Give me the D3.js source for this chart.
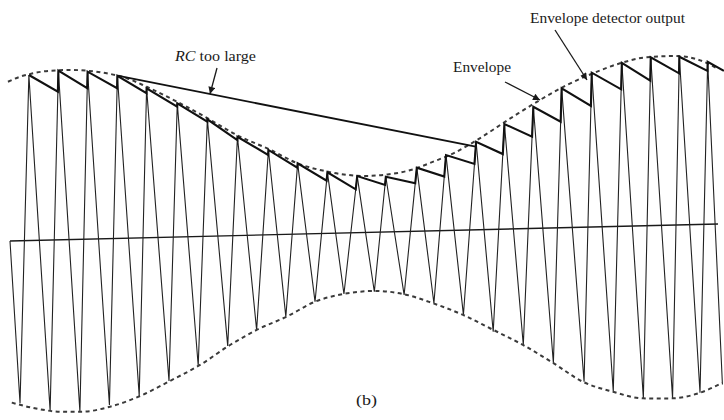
<!DOCTYPE html>
<html>
<head>
<meta charset="utf-8">
<title>Envelope detector output, RC too large</title>
<style>
  body { margin: 0; background: #fff; }
  svg { display: block; }
  text { font-family: "Liberation Serif", "DejaVu Serif", serif; fill: #1a1a1a; }
</style>
</head>
<body>
<svg width="724" height="420"></svg>
<script src="https://d3js.org/d3.v7.min.js"></script>
<script>
// carrier peaks / troughs, time in carrier periods, amplitude relative to axis
var peakT = [0.64,1.64,2.63,3.64,4.63,5.67,6.69,7.71,8.76,9.75,10.76,11.77,12.74,13.79,14.78,15.8,16.76,17.74,18.7,19.72,20.74,21.72,22.69,23.65];
var peakA = [0.974,0.995,0.985,0.957,0.879,0.786,0.688,0.581,0.499,0.416,0.359,0.333,0.325,0.374,0.444,0.518,0.618,0.716,0.82,0.908,0.962,0.99,0.989,0.956];
var troughT = [0.34,1.36,2.37,3.37,4.38,5.39,6.38,7.38,8.36,9.35,10.34,11.32,12.35,13.36,14.37,15.37,16.38,17.4,18.42,19.46,20.45,21.47,22.46,23.39,24.15];
var troughA = [-0.956,-1.004,-1.014,-0.979,-0.93,-0.846,-0.76,-0.648,-0.558,-0.484,-0.4,-0.359,-0.35,-0.373,-0.426,-0.499,-0.602,-0.684,-0.796,-0.909,-0.972,-1.015,-1.019,-0.99,-0.945];

// level the detector output has decayed to before the next carrier cycle catches it
var valleyA = [0.872,0.888,0.884,0.85,0.767,0.674,0.562,0.47,0.391,0.31,0.255,0.277,0.282,0.318,0.388,0.442,0.54,0.624,0.713,0.806,0.853,0.892,0.902,0.9];
var detectorEndT = 24.2;

// "RC too large" discharge: from peak 4 to the rising edge of peak 16
var rcFrom = 3, rcTo = 15, rcLevel = 0.49;

// dashed envelope
var upperEnvT = [-0.07,0.34,0.78,1.36,1.92,2.6,3.28,3.96,4.63,5.67,6.69,7.7,8.76,9.83,10.6,11.4,12.1,12.8,13.67,14.35,15.03,15.7,17.05,17.97,18.88,19.76,20.68,21.59,22.47,23.29,23.97];
var upperEnvA = [0.937,0.965,0.983,0.996,0.998,0.991,0.973,0.941,0.888,0.795,0.695,0.59,0.505,0.41,0.37,0.342,0.332,0.338,0.365,0.407,0.453,0.515,0.66,0.755,0.839,0.904,0.959,0.991,0.995,0.972,0.916];
var lowerEnvT = [0.06,0.78,1.7,2.48,3.39,4.41,5.42,6.44,7.46,8.36,9.38,10.34,11.29,12.3,13.32,14.34,15.36,16.27,17.39,18.41,19.42,20.44,21.46,22.47,23.39,24.14];
var lowerEnvA = [-0.951,-0.985,-1.011,-1.014,-0.989,-0.93,-0.846,-0.756,-0.643,-0.558,-0.484,-0.4,-0.359,-0.345,-0.367,-0.426,-0.499,-0.581,-0.684,-0.794,-0.909,-0.972,-1.015,-1.019,-0.99,-0.936];

var svg = d3.select("svg");

var x = d3.scaleLinear().domain([0, 24]).range([10, 718]);
var y = d3.scaleLinear().domain([-1, 1]).range([411, 71]);

// the scanned page is a little crooked: the time axis climbs ~17px over its length
var g = svg.append("g")
    .attr("transform", "translate(0,0.24) skewY(-1.375)");

var line = d3.line()
    .x(function(d) { return x(d[0]); })
    .y(function(d) { return y(d[1]); });

var smooth = d3.line()
    .curve(d3.curveMonotoneX)
    .x(function(d) { return x(d[0]); })
    .y(function(d) { return y(d[1]); });

// time axis
g.append("path")
    .datum([[0, 0], [24, 0]])
    .attr("d", line)
    .attr("fill", "none")
    .attr("stroke", "#1a1a1a")
    .attr("stroke-width", 1.4);

// AM carrier: straight strokes trough -> peak -> trough
var carrier = [[0, 0]];
troughT.forEach(function(t, i) {
    carrier.push([t, troughA[i]]);
    if (i < peakT.length) carrier.push([peakT[i], peakA[i]]);
});
g.append("path")
    .datum(carrier)
    .attr("d", line)
    .attr("fill", "none")
    .attr("stroke", "#222")
    .attr("stroke-width", 1.1)
    .attr("stroke-linejoin", "miter");

// where a level meets the rising edge into peak i
function risingAt(i, level) {
    var t0 = troughT[i], a0 = troughA[i], t1 = peakT[i], a1 = peakA[i];
    return t0 + (level - a0) / (a1 - a0) * (t1 - t0);
}

// dashed envelopes
[[upperEnvT, upperEnvA], [lowerEnvT, lowerEnvA]].forEach(function(e) {
    g.append("path")
        .datum(e[0].map(function(t, i) { return [t, e[1][i]]; }))
        .attr("d", smooth)
        .attr("fill", "none")
        .attr("stroke", "#3a3a3a")
        .attr("stroke-width", 2)
        .attr("stroke-dasharray", "4,3.5");
});

// envelope detector output (sawtooth following the peaks)
var det = [];
peakT.forEach(function(t, i) {
    det.push([t, peakA[i]]);
    if (i + 1 < peakT.length) det.push([risingAt(i + 1, valleyA[i]), valleyA[i]]);
    else det.push([detectorEndT, valleyA[i]]);
});
g.append("path")
    .datum(det)
    .attr("d", line)
    .attr("fill", "none")
    .attr("stroke", "#111")
    .attr("stroke-width", 2.1)
    .attr("stroke-linejoin", "miter");

// RC too large: one long slow discharge
g.append("path")
    .datum([[peakT[rcFrom], peakA[rcFrom]], [risingAt(rcTo, rcLevel), rcLevel]])
    .attr("d", line)
    .attr("fill", "none")
    .attr("stroke", "#111")
    .attr("stroke-width", 1.8);

// arrows + labels
svg.append("defs").append("marker")
    .attr("id", "head")
    .attr("viewBox", "0 0 10 10")
    .attr("refX", 10).attr("refY", 5)
    .attr("markerWidth", 9).attr("markerHeight", 7)
    .attr("markerUnits", "userSpaceOnUse")
    .attr("orient", "auto")
  .append("path")
    .attr("d", "M0,0 L10,5 L0,10 z")
    .attr("fill", "#1a1a1a");

var arrows = [
    [[217, 68], [210, 94]],
    [[505, 82], [540, 100]],
    [[555, 30], [587, 80]]
];
arrows.forEach(function(a) {
    svg.append("line")
        .attr("x1", a[0][0]).attr("y1", a[0][1])
        .attr("x2", a[1][0]).attr("y2", a[1][1])
        .attr("stroke", "#1a1a1a")
        .attr("stroke-width", 1.3)
        .attr("marker-end", "url(#head)");
});

var rc = svg.append("text")
    .attr("x", 175).attr("y", 61)
    .attr("font-size", 15)
    .attr("textLength", 81)
    .attr("lengthAdjust", "spacingAndGlyphs");
rc.append("tspan").attr("font-style", "italic").text("RC");
rc.append("tspan").text(" too large");

svg.append("text")
    .attr("x", 453).attr("y", 72)
    .attr("font-size", 15)
    .attr("textLength", 58)
    .attr("lengthAdjust", "spacingAndGlyphs")
    .text("Envelope");

svg.append("text")
    .attr("x", 530).attr("y", 23)
    .attr("font-size", 15)
    .attr("textLength", 155)
    .attr("lengthAdjust", "spacingAndGlyphs")
    .text("Envelope detector output");

svg.append("text")
    .attr("x", 356).attr("y", 405)
    .attr("font-size", 15)
    .attr("textLength", 21)
    .attr("lengthAdjust", "spacingAndGlyphs")
    .text("(b)");
</script>
</body>
</html>
